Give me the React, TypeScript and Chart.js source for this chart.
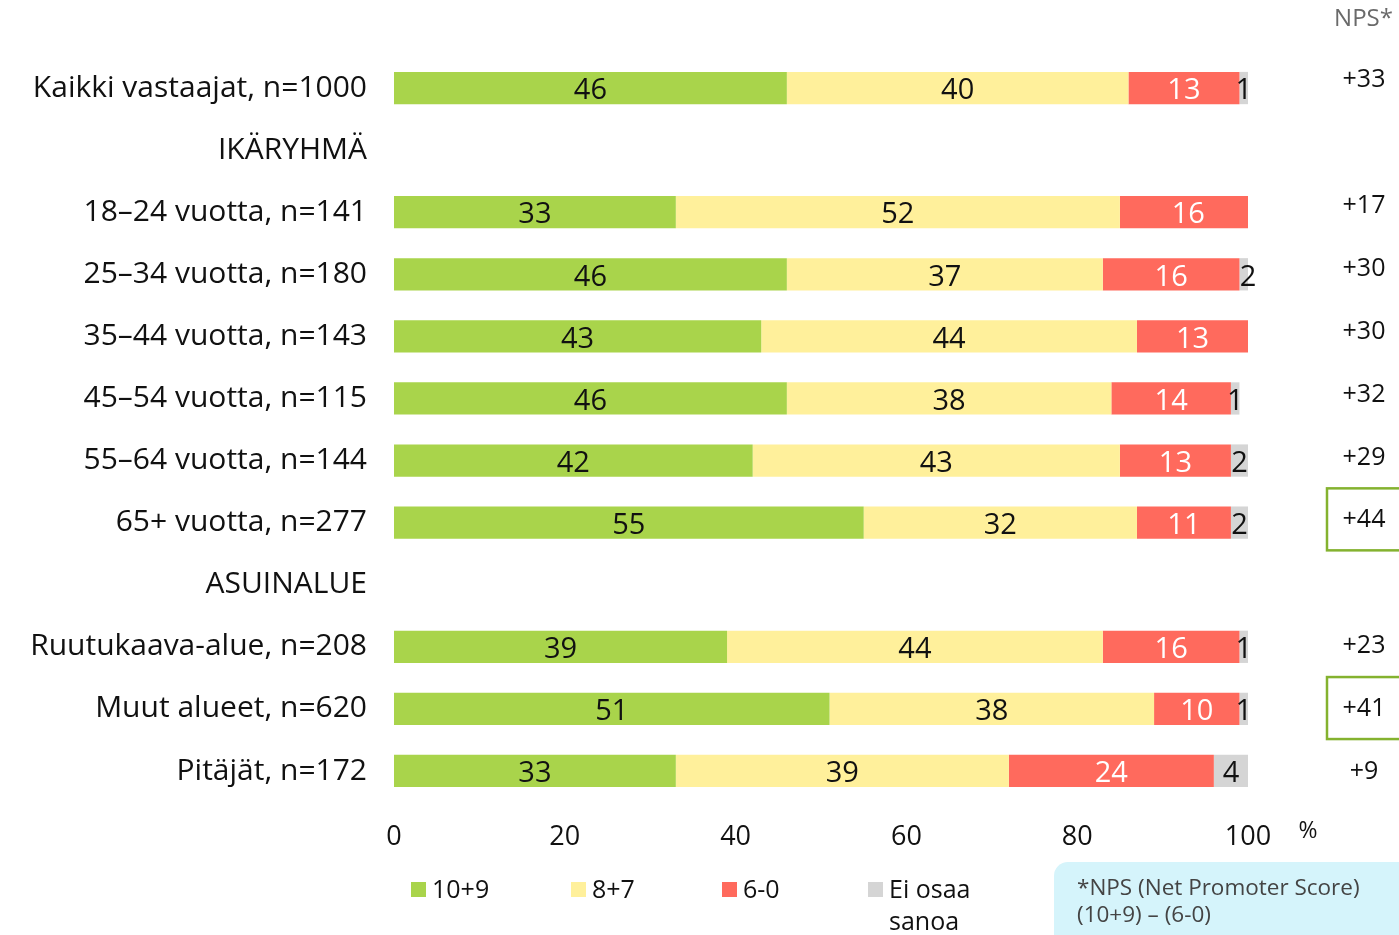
import React, { useEffect, useRef } from "react";
import { Chart, registerables } from "chart.js";

Chart.register(...registerables);

const categories = [
  "Kaikki vastaajat, n=1000",
  "IKÄRYHMÄ",
  "18–24 vuotta, n=141",
  "25–34 vuotta, n=180",
  "35–44 vuotta, n=143",
  "45–54 vuotta, n=115",
  "55–64 vuotta, n=144",
  "65+ vuotta, n=277",
  "ASUINALUE",
  "Ruutukaava-alue, n=208",
  "Muut alueet, n=620",
  "Pitäjät, n=172",
];
const promoters = [46, null, 33, 46, 43, 46, 42, 55, null, 39, 51, 33];
const passives = [40, null, 52, 37, 44, 38, 43, 32, null, 44, 38, 39];
const detractors = [13, null, 16, 16, 13, 14, 13, 11, null, 16, 10, 24];
const dontKnow = [1, null, 0, 2, 0, 1, 2, 2, null, 1, 1, 4];
const npsValues = ["+33", "", "+17", "+30", "+30", "+32", "+29", "+44", "", "+23", "+41", "+9"];
const npsHighlighted = [false, false, false, false, false, false, false, true, false, false, true, false];
const seriesLabels = ["10+9", "8+7", "6-0", "Ei osaa sanoa"];
const xTicks = [0, 20, 40, 60, 80, 100];

const FONT = "'Open Sans', sans-serif";
const COLORS = ["#a9d44b", "#fff09b", "#ff6a5d", "#d5d5d5"];

export default function App() {
  const ref = useRef<HTMLCanvasElement | null>(null);

  useEffect(() => {
    document.body.style.margin = "0";
    const canvas = ref.current!;
    const overlay = {
      id: "overlay",
      afterDatasetsDraw(chart: any) {
        const ctx = chart.ctx;
        const yScale = chart.scales.y;
        ctx.save();
        // data labels
        chart.data.datasets.forEach((ds: any, di: number) => {
          const meta = chart.getDatasetMeta(di);
          meta.data.forEach((el: any, i: number) => {
            const v = ds.data[i];
            if (v === null || v === 0) return;
            const cx = (el.x + el.base) / 2;
            ctx.font = `29px ${FONT}`;
            ctx.fillStyle = di === 2 ? "#ffffff" : "#111111";
            ctx.textAlign = "center";
            ctx.textBaseline = "middle";
            ctx.fillText(String(v), cx, el.y + 3);
          });
        });
        // NPS column
        ctx.fillStyle = "#6a6a6a";
        ctx.font = `24px ${FONT}`;
        ctx.textAlign = "right";
        ctx.textBaseline = "middle";
        ctx.fillText("NPS*", 1393, 19);
        npsValues.forEach((t, i) => {
          if (!t) return;
          const y = yScale.getPixelForValue(i) - 8 + (i * 9) / 11;
          ctx.fillStyle = "#111111";
          ctx.font = `25px ${FONT}`;
          ctx.textAlign = "center";
          ctx.textBaseline = "middle";
          ctx.fillText(t, 1364, y);
          if (npsHighlighted[i]) {
            ctx.strokeStyle = "#84b22f";
            ctx.lineWidth = 2.5;
            ctx.strokeRect(1327, y - 32, 90, 62);
          }
        });
        // % label
        ctx.fillStyle = "#111111";
        ctx.font = `23px ${FONT}`;
        ctx.textAlign = "center";
        ctx.fillText("%", 1308, 831);
        // legend
        const legendX = [411, 571, 722, 868];
        seriesLabels.forEach((lab, i) => {
          ctx.fillStyle = COLORS[i];
          ctx.fillRect(legendX[i], 882, 15, 15);
          ctx.fillStyle = "#111111";
          ctx.font = `25px ${FONT}`;
          ctx.textAlign = "left";
          ctx.textBaseline = "middle";
          if (i === 3) {
            ctx.fillText("Ei osaa", legendX[i] + 21, 891);
            ctx.fillText("sanoa", legendX[i] + 21, 923);
          } else {
            ctx.fillText(lab, legendX[i] + 21, 891);
          }
        });
        // info box
        ctx.fillStyle = "#d5f4fb";
        ctx.beginPath();
        (ctx as any).roundRect(1054, 862, 380, 90, 14);
        ctx.fill();
        ctx.fillStyle = "#444444";
        ctx.font = `22.5px ${FONT}`;
        ctx.textAlign = "left";
        ctx.fillText("*NPS (Net Promoter Score)", 1077, 889);
        ctx.fillText("(10+9) – (6-0)", 1077, 916);
        ctx.restore();
      },
    };

    const chart = new Chart(canvas, {
      type: "bar",
      data: {
        labels: categories,
        datasets: [promoters, passives, detractors, dontKnow].map((d, i) => ({
          label: seriesLabels[i],
          data: d,
          backgroundColor: COLORS[i],
          borderWidth: 0,
          barPercentage: 0.52,
          categoryPercentage: 1,
        })),
      },
      options: {
        indexAxis: "y",
        responsive: false,
        animation: false,
        layout: { padding: { top: 57, right: 151, bottom: 0, left: 0 } },
        plugins: { legend: { display: false }, tooltip: { enabled: false } },
        scales: {
          x: {
            stacked: true,
            min: 0,
            max: 100,
            grid: { display: false },
            border: { display: false },
            afterBuildTicks: (s: any) => {
              s.ticks = xTicks.map((v) => ({ value: v }));
            },
            afterFit: (s: any) => {
              s.height = 133;
            },
            ticks: {
              color: "#111111",
              font: { family: FONT, size: 27 },
              padding: 11,
            },
          },
          y: {
            stacked: true,
            grid: { display: false },
            border: { display: false },
            afterFit: (s: any) => {
              s.width = 394;
            },
            ticks: {
              color: "#111111",
              font: { family: FONT, size: 30 },
              padding: 19,
            },
          },
        },
      },
      plugins: [overlay],
    } as any);
    return () => chart.destroy();
  }, []);

  return <canvas ref={ref} width={1399} height={935} style={{ display: "block" }} />;
}
